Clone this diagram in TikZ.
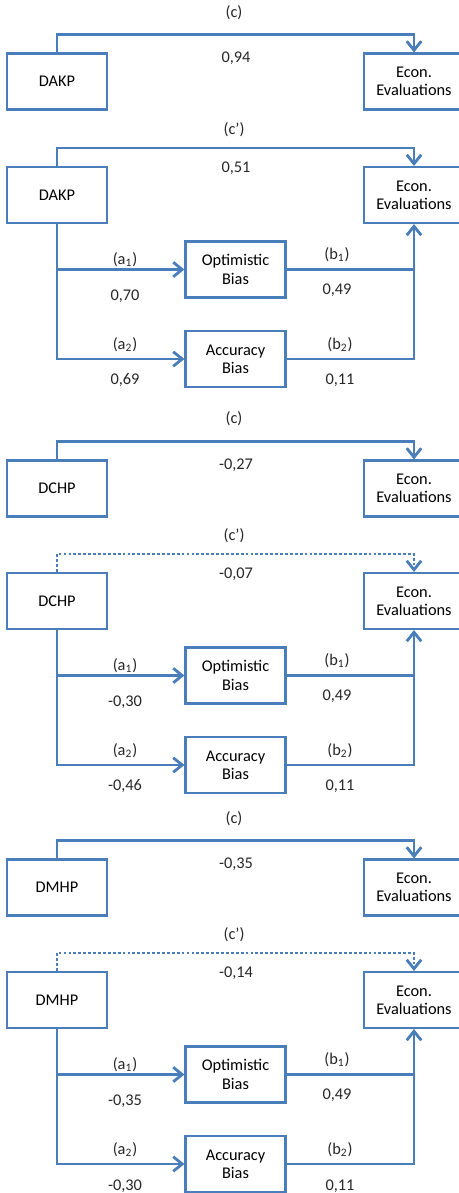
\documentclass[tikz,border=0pt]{standalone}
\usepackage{fontspec}
\setmainfont{Carlito}
\usetikzlibrary{arrows.meta}
\definecolor{pathblue}{RGB}{74,126,187}
\tikzset{
    box/.style={draw=pathblue, line width=1.2pt, minimum width=2cm, minimum height=1.12cm, align=center, inner sep=1pt},
    conn/.style={draw=pathblue, line width=1.6pt},
    link/.style={conn, -{Straight Barb[length=1.8mm,width=2.9mm]}},
    dotlink/.style={link, dash pattern=on 1.6pt off 1.2pt},
    lab/.style={inner sep=0pt, text=black!85}
}
\begin{document}
\begin{tikzpicture}[x=0.02cm, y=-0.02cm, font=\fontsize{9.3}{10.4}\selectfont]
    \useasboundingbox (0,0) rectangle (458,1193);

    % DAKP (c)
        \node[box] (dakp1) at (57,81.5) {DAKP};
        \node[box] (econ1) at (414,81.5) {Econ.\\Evaluations};
        \draw[link] (dakp1.north) -- ++(0,-18) -| (econ1.north);
        \node[lab] (c1) at (234,13) {(c)};
        \node[lab] (v1) at (236,58) {0,94};

    % DAKP (c')
        \node[box] (dakp2) at (57,195) {DAKP};
        \node[box] (econ2) at (414,195) {Econ.\\Evaluations};
        \node[box] (opt2) at (235.5,269.5) {Optimistic\\Bias};
        \node[box] (acc2) at (235.5,359) {Accuracy\\Bias};
        \draw[link] (dakp2.north) -- ++(0,-18) -| (econ2.north);
        \draw[link] (dakp2.south) |- (acc2.west);
        \draw[link] (dakp2.south |- opt2.west) -- (opt2.west);
        \draw[conn] (opt2.east) -- (econ2.south |- opt2.east);
        \draw[link] (acc2.east) -| (econ2.south);
        \node[lab] (c2) at (234,130) {(c')};
        \node[lab] (v2) at (236,168) {0,51};
        \node[lab] (a12) at (125,260) {(a\textsubscript{1})};
        \node[lab] (va12) at (125,296) {0,70};
        \node[lab] (b12) at (337,255) {(b\textsubscript{1})};
        \node[lab] (vb12) at (337,290) {0,49};
        \node[lab] (a22) at (125,345) {(a\textsubscript{2})};
        \node[lab] (va22) at (125,380) {0,69};
        \node[lab] (b22) at (340,345) {(b\textsubscript{2})};
        \node[lab] (vb22) at (340,380) {0,11};

    % DCHP (c)
        \node[box] (dchp3) at (57,488.5) {DCHP};
        \node[box] (econ3) at (414,488.5) {Econ.\\Evaluations};
        \draw[link] (dchp3.north) -- ++(0,-18) -| (econ3.north);
        \node[lab] (c3) at (234,419) {(c)};
        \node[lab] (v3) at (236,465) {-0,27};

    % DCHP (c')
        \node[box] (dchp4) at (57,601) {DCHP};
        \node[box] (econ4) at (414,601) {Econ.\\Evaluations};
        \node[box] (opt4) at (235.5,675.5) {Optimistic\\Bias};
        \node[box] (acc4) at (235.5,765) {Accuracy\\Bias};
        \draw[dotlink] (dchp4.north) -- ++(0,-18) -| (econ4.north);
        \draw[link] (dchp4.south) |- (acc4.west);
        \draw[link] (dchp4.south |- opt4.west) -- (opt4.west);
        \draw[conn] (opt4.east) -- (econ4.south |- opt4.east);
        \draw[link] (acc4.east) -| (econ4.south);
        \node[lab] (c4) at (234,536) {(c')};
        \node[lab] (v4) at (236,574) {-0,07};
        \node[lab] (a14) at (125,666) {(a\textsubscript{1})};
        \node[lab] (va14) at (125,702) {-0,30};
        \node[lab] (b14) at (337,661) {(b\textsubscript{1})};
        \node[lab] (vb14) at (337,696) {0,49};
        \node[lab] (a24) at (125,751) {(a\textsubscript{2})};
        \node[lab] (va24) at (125,786) {-0,46};
        \node[lab] (b24) at (340,751) {(b\textsubscript{2})};
        \node[lab] (vb24) at (340,786) {0,11};

    % DMHP (c)
        \node[box] (dmhp5) at (57,887.5) {DMHP};
        \node[box] (econ5) at (414,887.5) {Econ.\\Evaluations};
        \draw[link] (dmhp5.north) -- ++(0,-18) -| (econ5.north);
        \node[lab] (c5) at (234,819) {(c)};
        \node[lab] (v5) at (236,864) {-0,35};

    % DMHP (c')
        \node[box] (dmhp6) at (57,1000) {DMHP};
        \node[box] (econ6) at (414,1000) {Econ.\\Evaluations};
        \node[box] (opt6) at (235.5,1074.5) {Optimistic\\Bias};
        \node[box] (acc6) at (235.5,1164) {Accuracy\\Bias};
        \draw[dotlink] (dmhp6.north) -- ++(0,-18) -| (econ6.north);
        \draw[link] (dmhp6.south) |- (acc6.west);
        \draw[link] (dmhp6.south |- opt6.west) -- (opt6.west);
        \draw[conn] (opt6.east) -- (econ6.south |- opt6.east);
        \draw[link] (acc6.east) -| (econ6.south);
        \node[lab] (c6) at (234,935) {(c')};
        \node[lab] (v6) at (236,973) {-0,14};
        \node[lab] (a16) at (125,1065) {(a\textsubscript{1})};
        \node[lab] (va16) at (125,1101) {-0,35};
        \node[lab] (b16) at (337,1060) {(b\textsubscript{1})};
        \node[lab] (vb16) at (337,1095) {0,49};
        \node[lab] (a26) at (125,1150) {(a\textsubscript{2})};
        \node[lab] (va26) at (125,1186) {-0,30};
        \node[lab] (b26) at (340,1150) {(b\textsubscript{2})};
        \node[lab] (vb26) at (340,1186) {0,11};
\end{tikzpicture}
\end{document}
